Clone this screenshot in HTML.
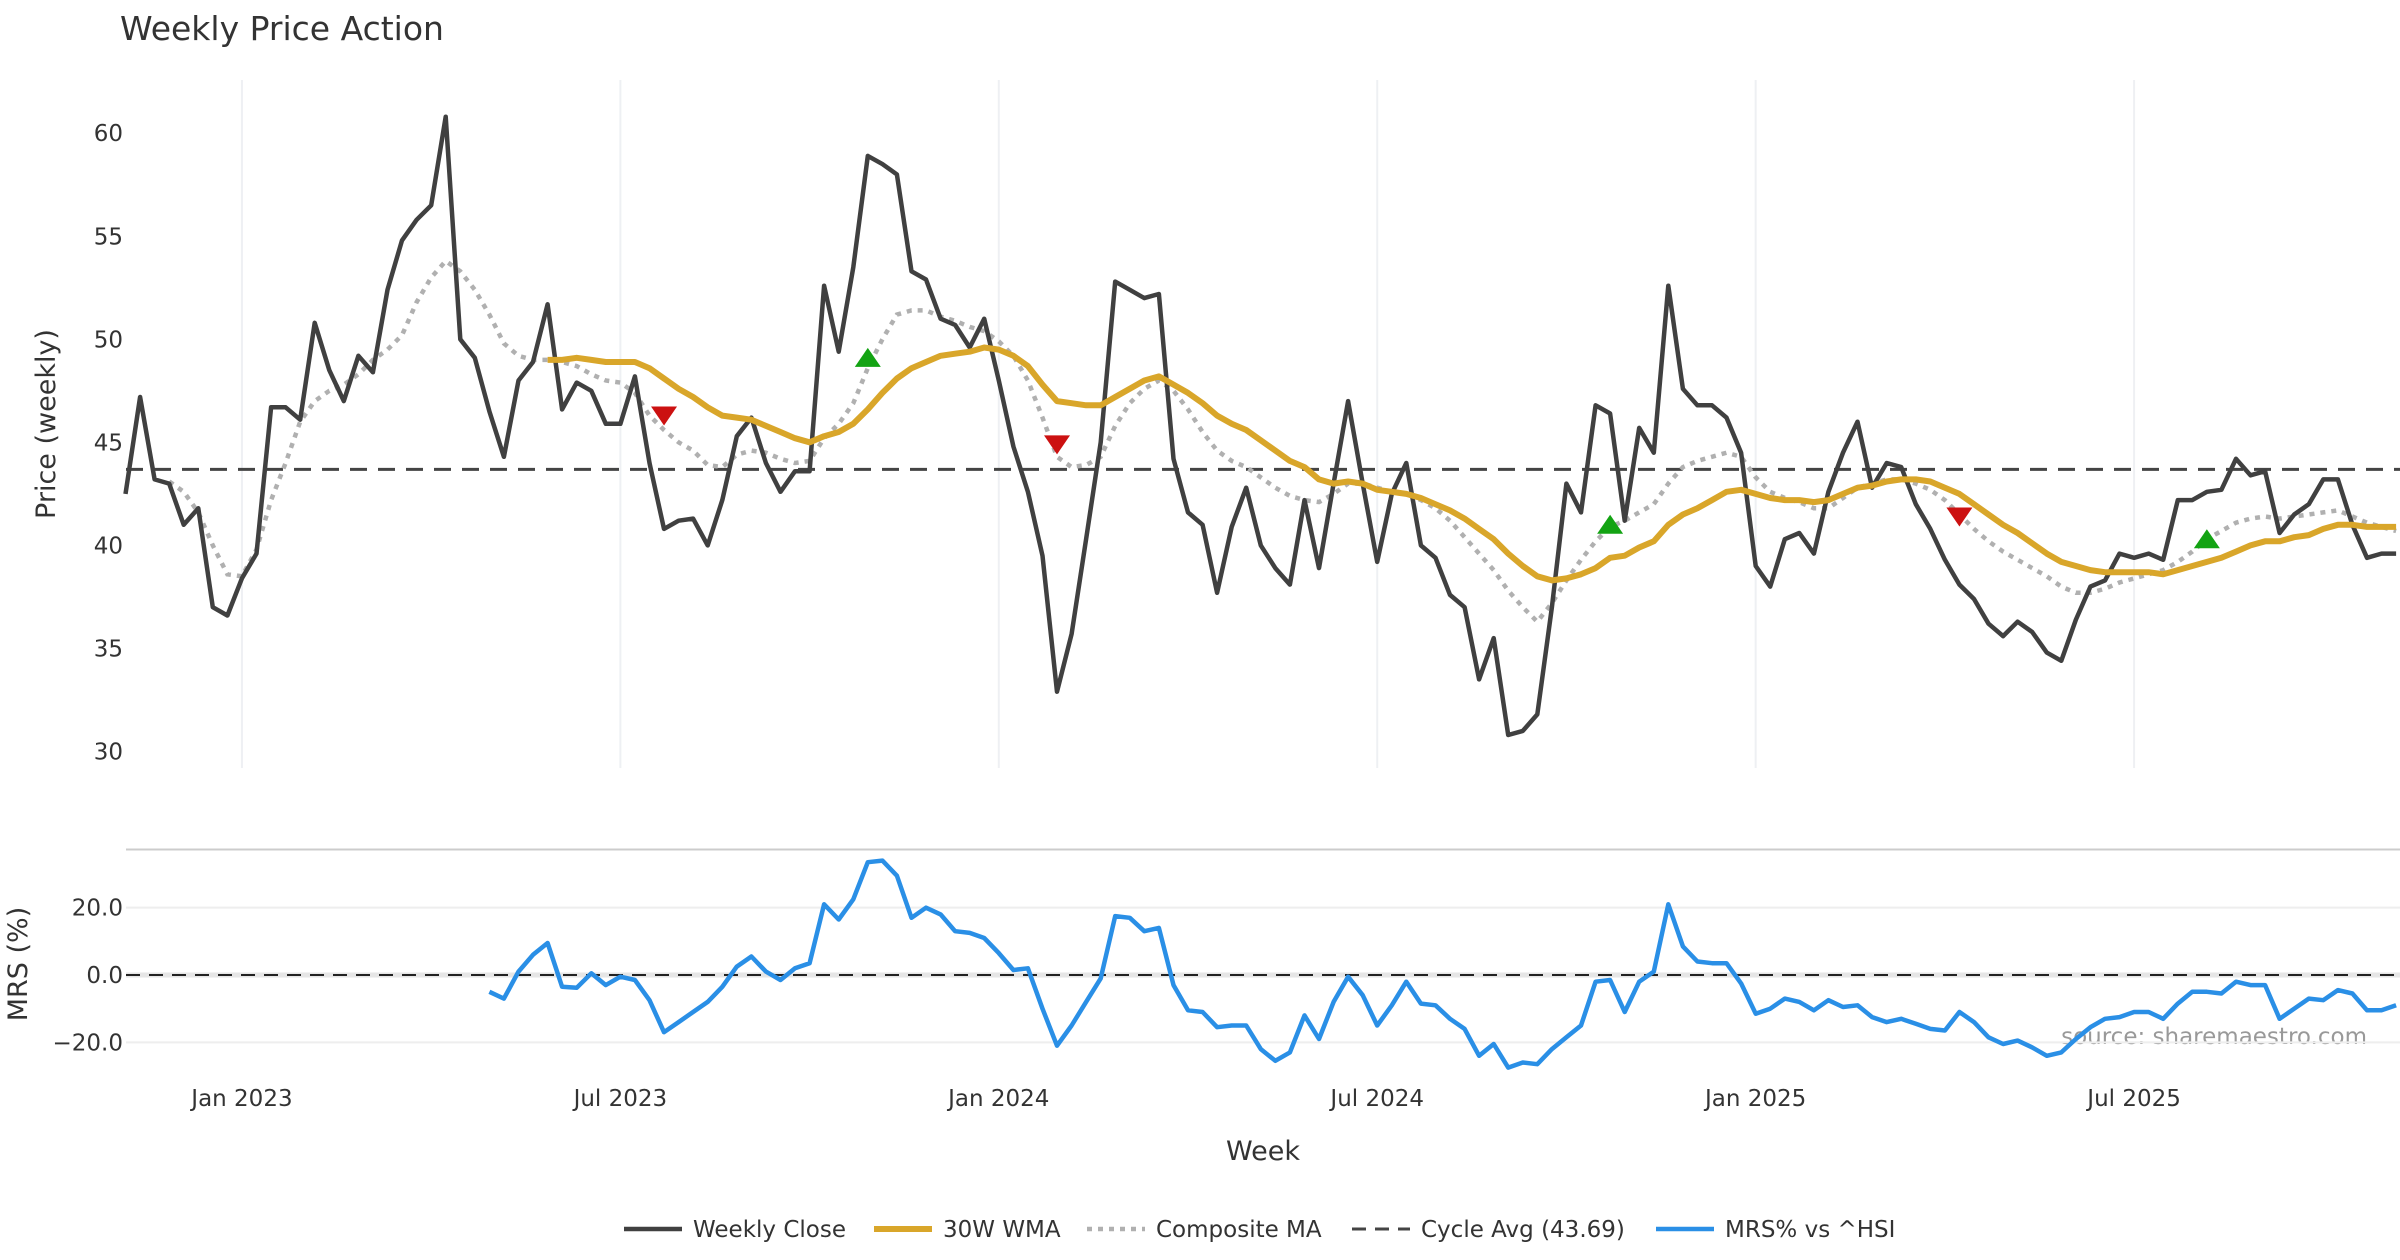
<!DOCTYPE html>
<html><head><meta charset="utf-8"><style>
html,body{margin:0;padding:0;background:#fff;}
svg{display:block;font-family:"DejaVu Sans","Liberation Sans",sans-serif;}
</style></head><body>
<svg id="chart" width="2400" height="1260" viewBox="0 0 2400 1260" xmlns="http://www.w3.org/2000/svg">
<text x="120" y="40" font-size="33" fill="#333">Weekly Price Action</text>
<text transform="translate(55,424) rotate(-90)" text-anchor="middle" font-size="27" fill="#333">Price (weekly)</text>
<text transform="translate(27,964) rotate(-90)" text-anchor="middle" font-size="27" fill="#333">MRS (%)</text>
<text x="1263" y="1160" text-anchor="middle" font-size="27" fill="#333">Week</text>
<text x="2367" y="1044" text-anchor="end" font-size="23" fill="#999">source: sharemaestro.com</text>
<line x1="126" y1="849.5" x2="2400" y2="849.5" stroke="#ccc" stroke-width="2"/>
<g id="grid"></g><g id="series"></g><g id="axes"></g><g id="legend"></g>
</svg>
<script>
const closeValues=[42.5,47.2,43.2,43.0,41.0,41.8,37.0,36.6,38.4,39.6,46.7,46.7,46.1,50.8,48.5,47.0,49.2,48.4,52.4,54.8,55.8,56.5,60.8,50.0,49.1,46.5,44.3,48.0,48.9,51.7,46.6,47.9,47.5,45.9,45.9,48.2,44.0,40.8,41.2,41.3,40.0,42.2,45.3,46.2,44.0,42.6,43.6,43.6,52.6,49.4,53.5,58.9,58.5,58.0,53.3,52.9,51.0,50.7,49.6,51.0,48.0,44.8,42.6,39.5,32.9,35.7,40.3,45.0,52.8,52.4,52.0,52.2,44.2,41.6,41.0,37.7,40.9,42.8,40.0,38.9,38.1,42.2,38.9,43.0,47.0,43.0,39.2,42.5,44.0,40.0,39.4,37.6,37.0,33.5,35.5,30.8,31.0,31.8,37.0,43.0,41.6,46.8,46.4,41.2,45.7,44.5,52.6,47.6,46.8,46.8,46.2,44.5,39.0,38.0,40.3,40.6,39.6,42.6,44.5,46.0,42.8,44.0,43.8,42.0,40.8,39.3,38.1,37.4,36.2,35.6,36.3,35.8,34.8,34.4,36.4,38.0,38.3,39.6,39.4,39.6,39.3,42.2,42.2,42.6,42.7,44.2,43.4,43.6,40.6,41.5,42.0,43.2,43.2,41.0,39.4,39.6,39.6];
const wmaStart=29;
const wmaValues=[49.0,49.0,49.1,49.0,48.9,48.9,48.9,48.6,48.1,47.6,47.2,46.7,46.3,46.2,46.1,45.8,45.5,45.2,45.0,45.3,45.5,45.9,46.6,47.4,48.1,48.6,48.9,49.2,49.3,49.4,49.6,49.5,49.2,48.7,47.8,47.0,46.9,46.8,46.8,47.2,47.6,48.0,48.2,47.8,47.4,46.9,46.3,45.9,45.6,45.1,44.6,44.1,43.8,43.2,43.0,43.1,43.0,42.7,42.6,42.5,42.3,42.0,41.7,41.3,40.8,40.3,39.6,39.0,38.5,38.3,38.4,38.6,38.9,39.4,39.5,39.9,40.2,41.0,41.5,41.8,42.2,42.6,42.7,42.5,42.3,42.2,42.2,42.1,42.2,42.5,42.8,42.9,43.1,43.2,43.2,43.1,42.8,42.5,42.0,41.5,41.0,40.6,40.1,39.6,39.2,39.0,38.8,38.7,38.7,38.7,38.7,38.6,38.8,39.0,39.2,39.4,39.7,40.0,40.2,40.2,40.4,40.5,40.8,41.0,41.0,40.9,40.9,40.9];
const compStart=3;
const compValues=[43.1,42.6,41.6,40.0,38.6,38.5,39.8,42.2,44.0,46.0,47.0,47.5,47.8,48.3,49.0,49.5,50.2,51.8,53.0,53.8,53.3,52.4,51.2,49.8,49.2,49.0,49.0,48.9,48.7,48.3,48.0,47.9,47.4,46.3,45.6,45.0,44.6,43.9,43.8,44.4,44.6,44.5,44.2,44.0,44.1,45.2,45.9,46.9,48.6,50.0,51.2,51.4,51.4,51.1,50.9,50.6,50.4,49.9,49.2,48.0,46.2,44.3,43.8,43.9,44.3,45.8,46.9,47.6,48.0,47.5,46.6,45.5,44.6,44.1,43.8,43.3,42.8,42.4,42.2,42.1,42.5,43.0,43.0,42.8,42.6,42.5,42.2,41.8,41.2,40.4,39.6,38.8,37.8,37.0,36.3,37.2,38.3,39.3,40.2,40.9,41.2,41.6,42.0,43.0,43.8,44.1,44.3,44.5,44.3,43.3,42.6,42.3,42.1,41.8,41.8,42.3,42.8,43.0,43.2,43.2,43.0,42.7,42.2,41.5,40.8,40.2,39.7,39.3,38.9,38.5,38.0,37.7,37.7,37.9,38.2,38.4,38.6,38.8,39.2,39.7,40.3,40.7,41.1,41.3,41.4,41.3,41.4,41.5,41.6,41.7,41.4,41.1,40.9,40.7];
const cycleAvg=43.69;
const mrsStart=25;
const mrsValues=[-5,-7,1,6,9.5,-3.5,-3.8,0.5,-3,-0.5,-1.5,-7.5,-17,-14,-11,-8,-3.5,2.5,5.5,1,-1.5,2,3.5,21,16.5,22.5,33.5,34,29.5,17,20,18,13,12.5,11,6.5,1.5,2,-10,-21,-15,-8,-1,17.5,17,13,14,-3,-10.5,-11,-15.5,-15,-15,-22,-25.5,-23,-12,-19,-8,-0.5,-6,-15,-9,-2,-8.5,-9,-13,-16,-24,-20.5,-27.5,-26,-26.5,-22,-18.5,-15,-2,-1.5,-11,-2,1,21,8.5,4,3.5,3.5,-2.5,-11.5,-10,-7,-8,-10.5,-7.5,-9.5,-9,-12.5,-14,-13,-14.5,-16,-16.5,-11,-14,-18.5,-20.5,-19.5,-21.5,-24,-23,-19,-15.5,-13,-12.5,-11,-11,-13,-8.5,-5,-5,-5.5,-2,-3,-3,-13,-10,-7,-7.5,-4.5,-5.5,-10.5,-10.5,-9];
const signalIdx=[37,51,64,102,126,143];
const signalVal=[46.3,49.1,44.9,41.0,41.4,40.3];
const signalDir=["down","up","down","up","down","up"];
const priceTicks=[30,35,40,45,50,55,60];
const mrsTicks=[-20,0,20];
const mrsTickLabels=["\u221220.0","0.0","20.0"];
const xTickIdx=[8,34,60,86,112,138];
const xTickLabels=["Jan 2023","Jul 2023","Jan 2024","Jul 2024","Jan 2025","Jul 2025"];

const NS="http://www.w3.org/2000/svg";
const X0=125.5, DX=14.555;
function xs(i){return X0+i*DX;}
function yp(v){return 133.2+(60-v)*(751.5-133.2)/30;}
function ym(v){return 975-v*3.366;}
function mk(tag,attrs,parent){const e=document.createElementNS(NS,tag);for(const k in attrs)e.setAttribute(k,attrs[k]);parent.appendChild(e);return e;}
const grid=document.getElementById('grid'),series=document.getElementById('series'),axes=document.getElementById('axes'),legend=document.getElementById('legend');

xTickIdx.forEach((ix,k)=>{
  const g=mk('line',{x1:xs(ix),x2:xs(ix),y1:80,y2:768,stroke:'#eef0f3','stroke-width':2},grid);
  
  
  const t=mk('text',{x:xs(ix),y:1106,'text-anchor':'middle','font-size':23,fill:'#333'},axes);
  t.textContent=xTickLabels[k];
  
  
});
priceTicks.forEach(v=>{
  const t=mk('text',{x:123,y:yp(v)+8,'text-anchor':'end','font-size':23,fill:'#333'},axes);
  t.textContent=v;
  
  
});
mrsTicks.forEach((v,k)=>{
  const g=mk('line',{x1:126,x2:2400,y1:ym(v),y2:ym(v),stroke:v===0?'#e6e6e6':'#eeeeee','stroke-width':v===0?5:2},grid);
  
  
  const t=mk('text',{x:123,y:ym(v)+8,'text-anchor':'end','font-size':23,fill:'#333'},axes);
  t.textContent=mrsTickLabels[k];
  
  
});
const z=mk('line',{x1:126,x2:2400,y1:ym(0),y2:ym(0),stroke:'#222','stroke-width':2,'stroke-dasharray':'14,9'},series);



function pts(arr,start,yf){return arr.map((v,i)=>xs(start+i).toFixed(1)+','+yf(v).toFixed(1)).join(' ');}
const ca=mk('line',{x1:126,x2:2400,y1:yp(cycleAvg),y2:yp(cycleAvg),stroke:'#444','stroke-width':3,'stroke-dasharray':'17,11'},series);


const cm=mk('polyline',{points:pts(compValues,compStart,yp),fill:'none',stroke:'#b0b0b0','stroke-width':4.5,'stroke-dasharray':'5,6'},series);


const cl=mk('polyline',{points:pts(closeValues,0,yp),fill:'none',stroke:'#404040','stroke-width':4.5,'stroke-linejoin':'round'},series);


const wm=mk('polyline',{points:pts(wmaValues,wmaStart,yp),fill:'none',stroke:'#d9a62a','stroke-width':6,'stroke-linejoin':'round'},series);


const mr=mk('polyline',{points:pts(mrsValues,mrsStart,ym),fill:'none',stroke:'#2a8fe6','stroke-width':4.5,'stroke-linejoin':'round'},series);


signalIdx.forEach((ix,k)=>{
  const x=xs(ix),y=yp(signalVal[k]);
  const p=signalDir[k]==='up'?`${x-13},${y+9} ${x+13},${y+9} ${x},${y-10}`:`${x-13},${y-9} ${x+13},${y-9} ${x},${y+10}`;
  const m=mk('polygon',{points:p,fill:signalDir[k]==='up'?'#13a313':'#cc1111'},series);
  
  
});
const legItems=[["Weekly Close",624,'#404040',null,4.5],["30W WMA",874,'#d9a62a',null,6],["Composite MA",1087,'#b0b0b0','5,6',4.5],["Cycle Avg (43.69)",1352,'#444','14,9',3],["MRS% vs ^HSI",1656,'#2a8fe6',null,4.5]];
legItems.forEach(it=>{
  const g=mk('g',{},legend);
  
  
  const a={x1:it[1],x2:it[1]+58,y1:1229,y2:1229,stroke:it[2],'stroke-width':it[4]};
  if(it[3])a['stroke-dasharray']=it[3];
  const l=mk('line',a,g);
  
  
  const t=mk('text',{x:it[1]+69,y:1237,'font-size':23,fill:'#333'},g);
  t.textContent=it[0];
  
  
});
</script>
</body></html>
